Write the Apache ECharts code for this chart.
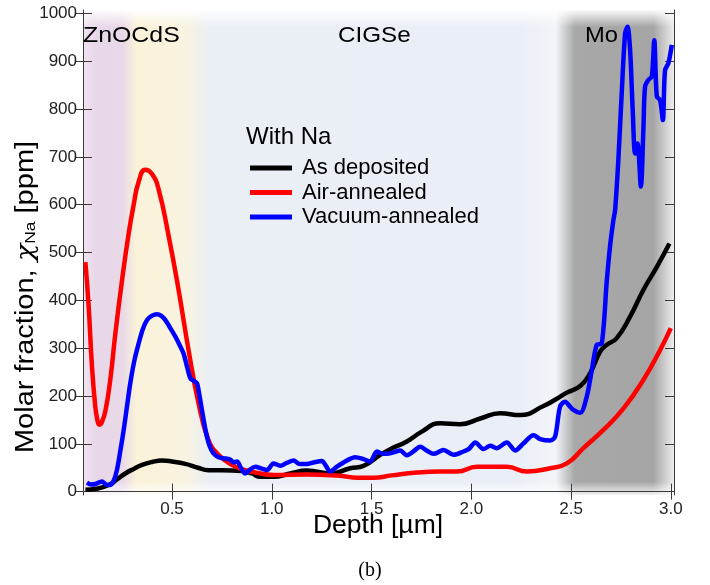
<!DOCTYPE html>
<html>
<head>
<meta charset="utf-8">
<script src="https://cdn.jsdelivr.net/npm/echarts@6/dist/echarts.min.js"></script>
<style>html,body{margin:0;padding:0;background:#fff}#c{width:710px;height:585px}</style>
</head>
<body>
<div id="c"></div>
<script>
// ---- data (depth in µm, molar fraction in ppm) ----
const seriesNames = ['As deposited', 'Air-annealed', 'Vacuum-annealed'];
const xTickValues = [0.5, 1.0, 1.5, 2.0, 2.5, 3.0];
const yTickValues = [0, 100, 200, 300, 400, 500, 600, 700, 800, 900, 1000];
const regionLabels = ['ZnOCdS', 'CIGSe', 'Mo'];

const depthAsDep = [0.066, 0.12, 0.183, 0.226, 0.266, 0.31, 0.35, 0.40, 0.45, 0.5, 0.567, 0.63, 0.683, 0.75, 0.85, 0.90, 0.942, 1.009, 1.093, 1.176, 1.293, 1.393, 1.46, 1.544, 1.60, 1.677, 1.75, 1.844, 1.944, 2.045, 2.145, 2.245, 2.362, 2.42, 2.479, 2.546, 2.596, 2.646, 2.679, 2.729, 2.796, 2.863, 2.93, 2.993];
const valAsDep   = [4, 6, 14, 26, 38, 48, 56, 62, 65, 63, 58, 50, 45, 45, 43, 38, 31, 31, 38, 44, 38, 49, 54, 77, 90, 105, 125, 143, 141, 153, 164, 160, 179, 192, 207, 221, 248, 293, 307, 321, 366, 422, 470, 519];

const depthAir = [0.066, 0.082, 0.099, 0.114, 0.125, 0.136, 0.148, 0.166, 0.191, 0.216, 0.249, 0.283, 0.308, 0.333, 0.366, 0.40, 0.433, 0.483, 0.533, 0.583, 0.633, 0.683, 0.733, 0.80, 0.867, 0.917, 1.009, 1.176, 1.343, 1.43, 1.51, 1.6, 1.727, 1.844, 1.928, 2.028, 2.178, 2.279, 2.395, 2.479, 2.562, 2.662, 2.763, 2.863, 2.946, 3.0];
const valAir   = [480, 390, 262, 185, 152, 140, 145, 168, 235, 330, 440, 540, 600, 648, 673, 664, 632, 535, 422, 296, 185, 108, 77, 56, 45, 40, 35, 36, 33, 29, 29, 34, 40, 42, 42, 52, 52, 42, 49, 59, 91, 129, 174, 234, 296, 342];

const depthVac = [0.074, 0.095, 0.116, 0.149, 0.17, 0.191, 0.207, 0.224, 0.241, 0.258, 0.275, 0.291, 0.312, 0.333, 0.354, 0.375, 0.40, 0.425, 0.445, 0.466, 0.49, 0.517, 0.54, 0.558, 0.575, 0.592, 0.608, 0.625, 0.638, 0.65, 0.663, 0.675, 0.69, 0.708, 0.733, 0.758, 0.792, 0.809, 0.826, 0.845, 0.867, 0.89, 0.917, 0.95, 0.976, 1.009, 1.043, 1.075, 1.109, 1.14, 1.176, 1.209, 1.251, 1.27, 1.293, 1.325, 1.36, 1.39, 1.418, 1.46, 1.493, 1.527, 1.55, 1.577, 1.61, 1.644, 1.677, 1.71, 1.744, 1.78, 1.811, 1.861, 1.911, 1.961, 1.99, 2.02, 2.061, 2.095, 2.128, 2.178, 2.22, 2.262, 2.312, 2.345, 2.395, 2.42, 2.445, 2.47, 2.495, 2.512, 2.546, 2.579, 2.604, 2.629, 2.654, 2.679, 2.696, 2.712, 2.721, 2.737, 2.754, 2.771, 2.783, 2.796, 2.809, 2.821, 2.833, 2.85, 2.863, 2.871, 2.888, 2.905, 2.917, 2.93, 2.946, 2.96, 2.971, 2.988, 3.005];
const valVac   = [19, 15, 16, 21, 15, 14, 22, 45, 85, 129, 180, 227, 275, 310, 340, 359, 368, 371, 368, 359, 343, 324, 305, 289, 262, 237, 232, 227, 200, 171, 140, 115, 94, 80, 72, 70, 67, 61, 63, 50, 38, 46, 52, 48, 45, 59, 54, 60, 65, 58, 58, 61, 64, 55, 42, 52, 61, 68, 72, 68, 63, 84, 80, 79, 82, 86, 76, 84, 94, 85, 79, 87, 77, 84, 90, 103, 89, 96, 91, 103, 86, 101, 118, 110, 107, 115, 178, 188, 178, 171, 165, 199, 254, 307, 310, 440, 515, 567, 589, 693, 833, 958, 972, 923, 798, 707, 728, 638, 763, 847, 861, 868, 944, 826, 819, 777, 881, 896, 934];

const depths = [depthAsDep, depthAir, depthVac];
const values = [valAsDep, valAir, valVac];
const colors = ['#000000', '#ff0000', '#0000ff'];
const smoothness = [0.5, 0.5, 0.3];

const X_MIN = 0.054, X_MAX = 3.016, Y_MIN = -7, Y_MAX = 1007;
const FONT = '"Liberation Sans", Arial, sans-serif';

const chart = echarts.init(document.getElementById('c'), null, {renderer: 'canvas'});

const bandGradient = new echarts.graphic.LinearGradient(0, 0, 1, 0, [
  {offset: 0.0, color: '#efe3ef'},
  {offset: 0.02, color: '#e8d7e8'},
  {offset: 0.066, color: '#e8d8e8'},
  {offset: 0.09, color: '#faf2d9'},
  {offset: 0.175, color: '#f8f3e1'},
  {offset: 0.215, color: '#eaeff6'},
  {offset: 0.74, color: '#eaeff7'},
  {offset: 0.8, color: '#f2f4f8'},
  {offset: 0.832, color: '#a8a8a8'},
  {offset: 0.965, color: '#a5a5a5'},
  {offset: 0.99, color: '#d8d8d8'},
  {offset: 1.0, color: '#eeeeee'}
]);
const fadeGradient = new echarts.graphic.LinearGradient(0, 0, 0, 1, [
  {offset: 0.0, color: 'rgba(255,255,255,0.95)'},
  {offset: 0.035, color: 'rgba(255,255,255,0)'},
  {offset: 0.972, color: 'rgba(255,255,255,0)'},
  {offset: 1.0, color: 'rgba(255,255,255,0.85)'}
]);

const gridPos = {left: 83, right: 36, top: 10, bottom: 90};
const frameLine = {show: true, lineStyle: {color: '#3a3a3a', width: 1}};

const series = seriesNames.map((name, i) => ({
  name: name,
  type: 'line',
  xAxisIndex: 0,
  yAxisIndex: 0,
  data: depths[i].map((d, k) => [d, values[i][k]]),
  showSymbol: false,
  smooth: smoothness[i],
  lineStyle: {color: colors[i], width: 4.5},
  itemStyle: {color: colors[i]},
  z: 3 + i
}));

const option = {
  animation: false,
  backgroundColor: '#ffffff',
  grid: [
    Object.assign({show: true, backgroundColor: bandGradient, borderWidth: 0}, gridPos),
    Object.assign({show: true, backgroundColor: fadeGradient, borderWidth: 0}, gridPos)
  ],
  xAxis: [
    {
      type: 'value', gridIndex: 0, position: 'bottom', min: X_MIN, max: X_MAX,
      axisLine: frameLine,
      axisTick: {show: true, inside: true, length: 8, customValues: xTickValues, lineStyle: {color: '#3a3a3a'}},
      axisLabel: {customValues: xTickValues, formatter: v => v.toFixed(1), fontFamily: FONT, fontSize: 17, color: '#222', margin: 6},
      splitLine: {show: false}
    },
    {
      type: 'value', gridIndex: 0, position: 'top', min: X_MIN, max: X_MAX,
      axisLine: frameLine,
      axisTick: {show: true, inside: true, length: 8, customValues: xTickValues, lineStyle: {color: '#3a3a3a'}},
      axisLabel: {show: false},
      splitLine: {show: false}
    },
    {
      type: 'value', gridIndex: 1, position: 'bottom', min: X_MIN, max: X_MAX,
      show: false
    }
  ],
  yAxis: [
    {
      type: 'value', gridIndex: 0, position: 'left', min: Y_MIN, max: Y_MAX,
      axisLine: frameLine,
      axisTick: {show: true, inside: false, length: 8, customValues: yTickValues, lineStyle: {color: '#3a3a3a'}},
      axisLabel: {customValues: yTickValues, formatter: v => String(Math.round(v)), fontFamily: FONT, fontSize: 17, color: '#222', margin: 6},
      splitLine: {show: false}
    },
    {
      type: 'value', gridIndex: 0, position: 'right', min: Y_MIN, max: Y_MAX,
      axisLine: frameLine,
      axisTick: {show: true, inside: true, length: 9, customValues: yTickValues, lineStyle: {color: '#3a3a3a'}},
      axisLabel: {show: false},
      splitLine: {show: false}
    },
    {
      type: 'value', gridIndex: 1, position: 'left', min: Y_MIN, max: Y_MAX,
      axisLine: {show: false},
      axisTick: {show: true, inside: true, length: 9, customValues: yTickValues, lineStyle: {color: '#3a3a3a'}},
      axisLabel: {show: false},
      splitLine: {show: false}
    }
  ],
  title: {
    text: 'With Na', left: 246, top: 125, padding: 0,
    textStyle: {fontFamily: FONT, fontSize: 24, fontWeight: 'normal', color: '#000'}
  },
  legend: {
    orient: 'vertical', left: 250, top: 157, padding: 0,
    itemWidth: 42, itemHeight: 5, itemGap: 2.5, icon: 'rect',
    data: seriesNames,
    textStyle: {fontFamily: FONT, fontSize: 22, color: '#000', lineHeight: 22, padding: [0, 0, 0, 5]}
  },
  graphic: [
    {type: 'text', x: 83, y: 36, scaleX: 1.13, style: {text: regionLabels[0], font: '22px ' + FONT, fill: '#000', align: 'left', verticalAlign: 'middle'}, z: 10},
    {type: 'text', x: 338, y: 36, scaleX: 1.1, style: {text: regionLabels[1], font: '22px ' + FONT, fill: '#000', align: 'left', verticalAlign: 'middle'}, z: 10},
    {type: 'text', x: 585, y: 36, scaleX: 1.08, style: {text: regionLabels[2], font: '22px ' + FONT, fill: '#000', align: 'left', verticalAlign: 'middle'}, z: 10},
    {type: 'text', x: 378, y: 526, scaleX: 1.06, style: {text: 'Depth [µm]', font: '25px ' + FONT, fill: '#000', align: 'center', verticalAlign: 'middle'}},
    {type: 'text', x: 370, y: 571, style: {text: '(b)', font: '20px "Liberation Serif", "Times New Roman", serif', fill: '#000', align: 'center', verticalAlign: 'middle'}},
    {
      type: 'text', x: 26, y: 297, rotation: Math.PI / 2, scaleX: 1.16,
      style: {
        text: 'Molar fraction, {chi|χ}{sub|Na} [ppm]',
        font: '25px ' + FONT, fill: '#000', align: 'center', verticalAlign: 'middle',
        rich: {
          chi: {fontFamily: '"DejaVu Serif", "Liberation Serif", serif', fontStyle: 'italic', fontSize: 25, fill: '#000', verticalAlign: 'middle'},
          sub: {fontFamily: FONT, fontSize: 15, fill: '#000', padding: [10, 0, 0, 0], verticalAlign: 'middle'}
        }
      }
    }
  ],
  series: series
};
chart.setOption(option);
</script>
</body>
</html>
